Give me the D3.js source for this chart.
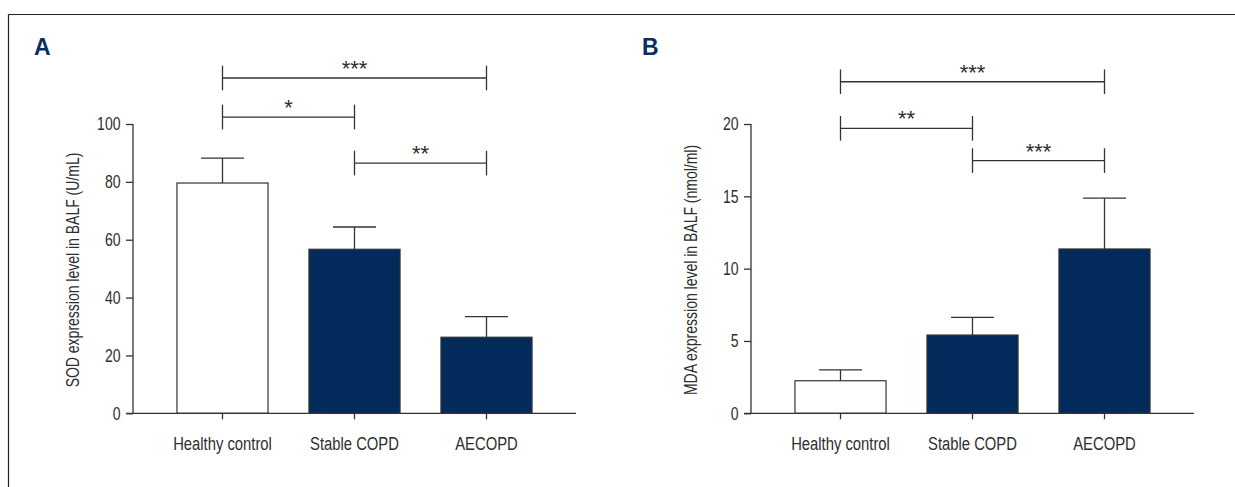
<!DOCTYPE html>
<html>
<head>
<meta charset="utf-8">
<script src="https://cdn.jsdelivr.net/npm/d3@7"></script>
<style>
  body { margin: 0; background: #fff; }
  svg text { font-family: "Liberation Sans", Arial, sans-serif; fill: #2e2e2e; }
</style>
</head>
<body>
<svg id="fig" width="1235" height="487"></svg>
<script>
"use strict";

// groups on the x axis
var categories = ["Healthy control", "Stable COPD", "AECOPD"];

// panel A: SOD (U/mL), mean and SD
var sodMean = [79.6, 56.7, 26.3];
var sodSD = [8.6, 7.7, 7.1];
var sodTicks = [0, 20, 40, 60, 80, 100];
// significance brackets: from group, to group, height in data units, label
var sodSig = [
  { from: 0, to: 2, level: 115.9, label: "***" },
  { from: 0, to: 1, level: 102.4, label: "*" },
  { from: 1, to: 2, level: 86.5, label: "**" }
];

// panel B: MDA (nmol/ml)
var mdaMean = [2.25, 5.41, 11.36];
var mdaSD = [0.75, 1.22, 3.52];
var mdaTicks = [0, 5, 10, 15, 20];
var mdaSig = [
  { from: 0, to: 2, level: 22.92, label: "***" },
  { from: 0, to: 1, level: 19.7, label: "**" },
  { from: 1, to: 2, level: 17.47, label: "***" }
];

var navy = "#022a5a";
var ink = "#333";
var narrow = 0.78; // condensed look, the original uses a narrow face

var svg = d3.select("#fig");

// frame lines (top and left)
svg.append("line").attr("x1", 8.5).attr("x2", 1235).attr("y1", 14.5).attr("y2", 14.5)
  .style("stroke", "#222").style("stroke-width", 1.2);
svg.append("line").attr("x1", 8.5).attr("x2", 8.5).attr("y1", 14.5).attr("y2", 487)
  .style("stroke", "#222").style("stroke-width", 1.2);

function drawPanel(opts) {
  var left = opts.left;
  var right = left + 443;
  var bottom = 413.3;
  var top = 124;

  var g = svg.append("g");

  var x = d3.scaleBand().domain(categories)
    .range([left, right]).paddingInner(0.31).paddingOuter(0.333);
  var y = d3.scaleLinear().domain([0, opts.max]).range([bottom, top]);

  // bars
  g.selectAll("rect.bar").data(opts.mean).enter().append("rect")
    .attr("class", "bar")
    .attr("x", function (d, i) { return x(categories[i]); })
    .attr("y", function (d) { return y(d); })
    .attr("width", x.bandwidth())
    .attr("height", function (d) { return bottom - y(d); })
    .style("fill", function (d, i) { return i === 0 ? "#fff" : navy; })
    .style("stroke", ink)
    .style("stroke-width", 1.2);

  // error bars (upper only)
  opts.mean.forEach(function (m, i) {
    var cx = x(categories[i]) + x.bandwidth() / 2;
    var yt = y(m + opts.sd[i]);
    g.append("line").attr("x1", cx).attr("x2", cx).attr("y1", y(m)).attr("y2", yt)
      .style("stroke", ink).style("stroke-width", 1.3);
    g.append("line").attr("x1", cx - 21.5).attr("x2", cx + 21.5).attr("y1", yt).attr("y2", yt)
      .style("stroke", ink).style("stroke-width", 1.3);
  });

  // y axis
  var yAxis = d3.axisLeft(y).tickValues(opts.ticks).tickSize(7).tickPadding(5);
  var ya = g.append("g").attr("transform", "translate(" + left + ",0)").call(yAxis);
  ya.select(".domain").remove();
  ya.append("line").attr("x1", 0).attr("x2", 0).attr("y1", bottom).attr("y2", top)
    .style("stroke", ink).style("stroke-width", 1.3);
  ya.selectAll(".tick line").style("stroke", ink).style("stroke-width", 1.3);
  ya.selectAll(".tick text")
    .attr("font-family", null).attr("font-size", null)
    .attr("x", -12.5 / narrow)
    .attr("transform", "scale(" + narrow + ",1)")
    .style("font-size", "18px");

  // x axis
  var xAxis = d3.axisBottom(x).tickSize(6).tickPadding(17);
  var xa = g.append("g").attr("transform", "translate(0," + bottom + ")").call(xAxis);
  xa.select(".domain").remove();
  xa.append("line").attr("x1", left - 7).attr("x2", right).attr("y1", 0).attr("y2", 0)
    .style("stroke", ink).style("stroke-width", 1.3);
  xa.selectAll(".tick line").style("stroke", ink).style("stroke-width", 1.3);
  xa.selectAll(".tick text")
    .attr("font-family", null).attr("font-size", null)
    .attr("transform", "scale(" + narrow + ",1)")
    .style("font-size", "19px");

  // y title
  g.append("text")
    .attr("transform", "translate(" + (left - 54) + "," + 270 + ") rotate(-90) scale(0.8,1)")
    .attr("text-anchor", "middle")
    .style("font-size", "17.5px")
    .text(opts.title);

  // panel letter
  svg.append("text")
    .attr("x", opts.letterX).attr("y", 55)
    .style("font-weight", "bold")
    .style("font-size", "23px")
    .style("fill", "#0b2d5e")
    .text(opts.letter);

  // significance brackets
  opts.sig.forEach(function (s) {
    var x1 = x(categories[s.from]) + x.bandwidth() / 2;
    var x2 = x(categories[s.to]) + x.bandwidth() / 2;
    var ly = y(s.level);
    g.append("line").attr("x1", x1).attr("x2", x2).attr("y1", ly).attr("y2", ly)
      .style("stroke", ink).style("stroke-width", 1.3);
    [x1, x2].forEach(function (xx) {
      g.append("line").attr("x1", xx).attr("x2", xx).attr("y1", ly - 12.3).attr("y2", ly + 12.3)
        .style("stroke", ink).style("stroke-width", 1.3);
    });
    g.append("text")
      .attr("x", (x1 + x2) / 2).attr("y", ly - 2)
      .attr("text-anchor", "middle")
      .style("font-size", "22px")
      .text(s.label);
  });
}

drawPanel({
  left: 133, max: 100, mean: sodMean, sd: sodSD, ticks: sodTicks, sig: sodSig,
  title: "SOD expression level in BALF (U/mL)", letter: "A", letterX: 34
});

drawPanel({
  left: 751, max: 20, mean: mdaMean, sd: mdaSD, ticks: mdaTicks, sig: mdaSig,
  title: "MDA expression level in BALF (nmol/ml)", letter: "B", letterX: 642
});
</script>
</body>
</html>
